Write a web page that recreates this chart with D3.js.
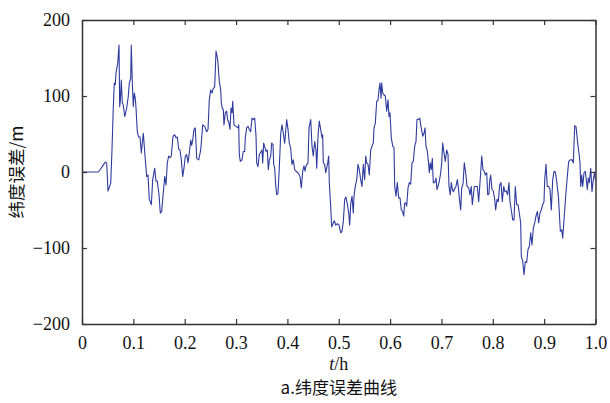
<!DOCTYPE html>
<html><head><meta charset="utf-8">
<script src="https://cdn.jsdelivr.net/npm/d3@7"></script>
<style>body{margin:0;background:#fff}svg{display:block}</style>
</head><body>
<script>
const xTicks = [0,0.1,0.2,0.3,0.4,0.5,0.6,0.7,0.8,0.9,1.0];
const xTickLabels = ["0","0.1","0.2","0.3","0.4","0.5","0.6","0.7","0.8","0.9","1.0"];
const yTicks = [-200,-100,0,100,200];
const yTickLabels = ["\u2212200","\u2212100","0","100","200"];
const xLabel = "h";
const yLabel = "纬度误差/m";
const caption = "a.纬度误差曲线";

const tValues = [0,0.0317,0.0351,0.0403,0.0454,0.0481,0.0506,0.0559,0.0584,0.0610,0.0629,0.0648,0.0662,0.0695,0.0721,0.0734,0.0746,0.0765,0.0785,0.0804,0.0832,0.0870,0.0902,0.0921,0.0948,0.0960,0.0980,0.0999,0.1018,0.1038,0.1052,0.1077,0.1104,0.1130,0.1155,0.1194,0.1233,0.1260,0.1285,0.1311,0.1350,0.1377,0.1416,0.1441,0.1466,0.1500,0.1525,0.1552,0.1577,0.1611,0.1636,0.1661,0.1688,0.1714,0.1739,0.1772,0.1805,0.1831,0.1856,0.1883,0.1908,0.1934,0.1961,0.1986,0.2012,0.2039,0.2064,0.2090,0.2117,0.2136,0.2156,0.2181,0.2206,0.2234,0.2273,0.2312,0.2351,0.2389,0.2428,0.2454,0.2479,0.2506,0.2532,0.2557,0.2584,0.2610,0.2643,0.2674,0.2701,0.2713,0.2732,0.2752,0.2765,0.2791,0.2818,0.2837,0.2857,0.2882,0.2902,0.2921,0.2935,0.2960,0.2999,0.3038,0.3052,0.3063,0.3083,0.3116,0.3141,0.3168,0.3180,0.3207,0.3233,0.3258,0.3285,0.3311,0.3336,0.3363,0.3389,0.3402,0.3427,0.3453,0.3480,0.3505,0.3519,0.3538,0.3564,0.3583,0.3609,0.3628,0.3648,0.3675,0.3694,0.3720,0.3733,0.3753,0.3772,0.3792,0.3817,0.3842,0.3870,0.3895,0.3920,0.3947,0.3986,0.4012,0.4037,0.4064,0.4090,0.4115,0.4142,0.4167,0.4206,0.4245,0.4271,0.4298,0.4323,0.4343,0.4362,0.4401,0.4421,0.4454,0.4479,0.4504,0.4532,0.4557,0.4571,0.4596,0.4621,0.4648,0.4674,0.4687,0.4699,0.4726,0.4746,0.4765,0.4785,0.4804,0.4816,0.4843,0.4863,0.4888,0.4913,0.4941,0.4972,0.5005,0.5038,0.5063,0.5089,0.5116,0.5141,0.5167,0.5194,0.5213,0.5233,0.5258,0.5283,0.5297,0.5322,0.5350,0.5375,0.5400,0.5427,0.5453,0.5478,0.5505,0.5525,0.5544,0.5570,0.5595,0.5622,0.5648,0.5673,0.5686,0.5712,0.5739,0.5764,0.5784,0.5803,0.5823,0.5836,0.5856,0.5875,0.5907,0.5934,0.5959,0.5979,0.5998,0.6023,0.6051,0.6076,0.6090,0.6115,0.6140,0.6167,0.6193,0.6218,0.6245,0.6265,0.6284,0.6310,0.6323,0.6349,0.6374,0.6401,0.6427,0.6452,0.6479,0.6504,0.6524,0.6549,0.6576,0.6602,0.6635,0.6660,0.6680,0.6699,0.6725,0.6752,0.6763,0.6783,0.6802,0.6822,0.6841,0.6869,0.6894,0.6913,0.6933,0.6958,0.6985,0.7005,0.7024,0.7050,0.7075,0.7102,0.7128,0.7147,0.7172,0.7192,0.7211,0.7231,0.7258,0.7283,0.7309,0.7328,0.7348,0.7375,0.7394,0.7420,0.7445,0.7472,0.7498,0.7531,0.7556,0.7581,0.7601,0.7620,0.7640,0.7673,0.7698,0.7725,0.7745,0.7764,0.7784,0.7809,0.7834,0.7854,0.7881,0.7901,0.7926,0.7938,0.7959,0.7984,0.8010,0.8037,0.8056,0.8082,0.8107,0.8134,0.8160,0.8185,0.8212,0.8238,0.8263,0.8290,0.8315,0.8335,0.8360,0.8388,0.8413,0.8438,0.8465,0.8491,0.8516,0.8543,0.8555,0.8582,0.8608,0.8633,0.8660,0.8685,0.8711,0.8738,0.8763,0.8789,0.8816,0.8841,0.8867,0.8894,0.8919,0.8944,0.8972,0.8997,0.9011,0.9036,0.9061,0.9089,0.9114,0.9139,0.9167,0.9192,0.9217,0.9244,0.9280,0.9315,0.9342,0.9361,0.9392,0.9426,0.9459,0.9478,0.9509,0.9542,0.9568,0.9595,0.9620,0.9653,0.9685,0.9698,0.9712,0.9731,0.9751,0.9776,0.9801,0.9821,0.9840,0.9860,0.9879,0.9907,0.9932,0.9957,0.9984,1.0];

const latErr = [0,0,3,8,13,12,-25,-15,29,86,117,115,130,143,167,86,93,121,91,88,73,84,100,117,123,167,117,86,104,97,84,53,46,46,25,51,16,-6,-4,-36,-43,-10,5,-12,-12,-30,-54,-52,-32,-6,-17,12,21,19,21,47,49,45,46,30,29,16,-6,5,21,23,12,25,42,35,42,56,58,18,16,29,62,60,53,56,95,108,104,110,112,159,148,119,108,91,84,82,62,78,80,68,66,56,84,78,93,62,60,58,62,23,14,16,27,27,45,58,60,56,53,71,69,71,47,12,7,23,26,29,12,38,32,27,29,3,16,21,38,36,10,5,-17,-30,-28,5,51,62,51,38,69,56,38,31,10,16,3,1,-1,-6,-21,1,8,1,8,12,58,69,34,21,40,29,5,47,67,56,45,49,12,10,-1,5,12,21,-14,-45,-72,-68,-64,-70,-68,-70,-80,-78,-65,-36,-33,-42,-54,-70,-42,-32,-54,-32,-19,-10,10,3,-10,-19,10,-10,21,12,10,-4,29,34,38,58,64,93,94,108,117,97,117,104,102,100,80,95,73,78,45,34,32,-19,-32,-14,-34,-34,-50,-52,-58,-41,-41,-45,-21,-14,-16,12,14,34,40,69,69,71,60,47,51,58,34,27,10,-1,12,3,18,-14,-14,-8,-23,-19,-12,-1,12,38,25,14,29,23,-19,-30,-14,-22,-26,-22,-19,-10,-19,-34,-50,-21,-16,12,-1,-19,-21,-30,-19,-43,-32,-19,-19,-19,-39,-19,-1,21,3,1,-4,-1,-30,-29,-12,-4,-23,-25,-36,-50,-36,-39,-17,-14,-39,-19,-26,-25,-30,-14,-39,-50,-63,-63,-19,-43,-43,-54,-67,-111,-117,-135,-118,-119,-102,-98,-80,-96,-74,-67,-58,-52,-67,-54,-50,-43,-39,-10,10,-19,-19,-23,-50,-10,1,0,-12,-34,-78,-76,-87,-58,-26,0,14,16,16,12,61,60,38,21,12,-19,-4,-19,-1,1,-10,-23,-8,-14,5,-26,-10,0,-12];

const W = 610, H = 403;
const m = {left: 82, right: 14.5, top: 20, bottom: 79};
const svg = d3.select("body").append("svg").attr("width", W).attr("height", H);
const x = d3.scaleLinear().domain([0, 1]).range([m.left, W - m.right]);
const y = d3.scaleLinear().domain([-200, 200]).range([H - m.bottom, m.top]);

const serif = "'Liberation Serif','Times New Roman',serif";
const cjk = "'Noto Sans CJK SC','Liberation Serif',sans-serif";
const axisColor = "#333";

// data line (clipped)
svg.append("clipPath").attr("id","clip").append("rect")
  .attr("x", x(0)).attr("y", y(200)).attr("width", x(1)-x(0)).attr("height", y(-200)-y(200));
const data = tValues.map((t,i)=>[t, latErr[i]]);
svg.append("path").datum(data)
  .attr("clip-path","url(#clip)")
  .attr("fill","none").attr("stroke","#2e3b9e").attr("stroke-width",1.1)
  .attr("stroke-linejoin","round")
  .attr("d", d3.line().x(d=>x(d[0])).y(d=>y(d[1])));

// axes: ticks inward on all sides
const tickLen = 5;
const fmtX = (d,i)=>xTickLabels[i];
const fmtY = (d,i)=>yTickLabels[i];
const gB = svg.append("g").attr("transform",`translate(0,${y(-200)})`)
  .call(d3.axisBottom(x).tickValues(xTicks).tickFormat(fmtX).tickSizeInner(-tickLen).tickSizeOuter(0).tickPadding(12));
const gT = svg.append("g").attr("transform",`translate(0,${y(200)})`)
  .call(d3.axisTop(x).tickValues(xTicks).tickFormat("").tickSizeInner(-tickLen).tickSizeOuter(0));
const gL = svg.append("g").attr("transform",`translate(${x(0)},0)`)
  .call(d3.axisLeft(y).tickValues(yTicks).tickFormat(fmtY).tickSizeInner(-tickLen).tickSizeOuter(0).tickPadding(12));
const gR = svg.append("g").attr("transform",`translate(${x(1)},0)`)
  .call(d3.axisRight(y).tickValues(yTicks).tickFormat("").tickSizeInner(-tickLen).tickSizeOuter(0));
[gB,gT,gL,gR].forEach(g=>{
  g.selectAll(".domain").attr("stroke",axisColor).attr("stroke-width",1.5);
  g.selectAll(".tick line").attr("stroke",axisColor).attr("stroke-width",1.2);
  g.selectAll("text").attr("fill","#111").style("font-family",serif).style("font-size","18px");
});

// y label
svg.append("text")
  .attr("transform",`translate(${23},${(y(200)+y(-200))/2}) rotate(-90)`)
  .attr("text-anchor","middle")
  .style("font-family",cjk).style("font-size","17.5px").attr("fill","#111")
  .text(yLabel);

// x label
const xl = svg.append("text").attr("x",(x(0)+x(1))/2).attr("y",370)
  .attr("text-anchor","middle").style("font-family",serif).style("font-size","18px").attr("fill","#111");
xl.append("tspan").style("font-style","italic").text("t");
xl.append("tspan").text("/" + xLabel);

// caption
svg.append("text").attr("x",(x(0)+x(1))/2).attr("y",394)
  .attr("text-anchor","middle").style("font-family",cjk).style("font-size","17px").attr("fill","#111")
  .text(caption);
</script>
</body></html>
